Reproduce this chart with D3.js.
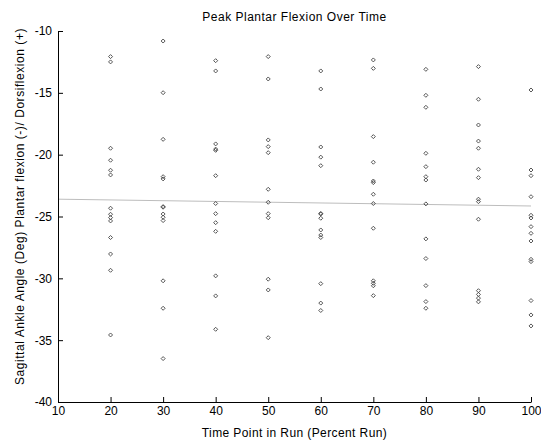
<!DOCTYPE html>
<html>
<head>
<meta charset="utf-8">
<script src="https://cdn.jsdelivr.net/npm/d3@7"></script>
<style>
  html, body { margin: 0; padding: 0; background: #fff; }
  svg { display: block; font-family: "Liberation Sans", Arial, sans-serif; }
</style>
</head>
<body>
<svg id="chart" width="541" height="446"></svg>
<script>
// ---- Data ----
const timePoints = [20, 30, 40, 50, 60, 70, 80, 90, 100];
const angles20 = [-12.07, -12.5, -19.48, -20.45, -21.26, -21.64, -24.33, -24.82, -25.09, -25.36, -26.7, -28.03, -29.35, -34.58];
const angles30 = [-10.81, -14.99, -18.76, -21.78, -21.96, -24.2, -24.25, -24.8, -25.06, -25.33, -30.2, -32.42, -36.49];
const angles40 = [-12.4, -13.23, -19.13, -19.55, -19.65, -21.7, -23.95, -24.77, -25.5, -26.2, -29.8, -31.42, -34.12];
const angles50 = [-12.07, -13.88, -18.81, -19.35, -19.84, -22.8, -23.85, -24.77, -25.1, -30.07, -30.94, -34.8];
const angles60 = [-13.23, -14.69, -19.38, -20.2, -20.89, -24.75, -24.8, -25.14, -26.09, -26.5, -26.7, -30.43, -32.0, -32.6];
const angles70 = [-12.34, -13.02, -18.54, -20.61, -22.13, -22.26, -23.2, -23.95, -25.95, -30.2, -30.4, -30.6, -31.4];
const angles80 = [-13.1, -15.2, -16.17, -19.89, -20.97, -21.78, -22.05, -23.98, -26.81, -28.4, -30.59, -31.88, -32.42];
const angles90 = [-12.88, -15.52, -17.6, -18.9, -19.48, -21.18, -21.86, -23.6, -23.8, -25.22, -31.0, -31.3, -31.6, -31.9];
const angles100 = [-14.77, -21.24, -21.7, -23.4, -24.9, -25.12, -25.82, -26.36, -26.98, -28.46, -28.65, -31.8, -32.96, -33.85];
const fitX = [10, 100];
const fitY = [-23.6, -24.15];
const xTicks = [10, 20, 30, 40, 50, 60, 70, 80, 90, 100];
const yTicks = [-10, -15, -20, -25, -30, -35, -40];
const titleText = "Peak Plantar Flexion Over Time";
const xLabel = "Time Point in Run (Percent Run)";
const yLabel = "Sagittal Ankle Angle (Deg) Plantar flexion (-)/ Dorsiflexion (+)";

const allAngles = [angles20, angles30, angles40, angles50, angles60, angles70, angles80, angles90, angles100];
const points = [];
timePoints.forEach((t, i) => allAngles[i].forEach(v => points.push({ t, v })));

// ---- Layout ----
const W = 541, H = 446;
const margin = { left: 58, right: 10, top: 31, bottom: 44 };
const svg = d3.select("#chart");

const x = d3.scaleLinear().domain([10, 100]).range([margin.left, W - margin.right]);
const y = d3.scaleLinear().domain([-40, -10]).range([H - margin.bottom, margin.top]);

// regression line
svg.append("path")
  .datum(fitX.map((d, i) => [d, fitY[i]]))
  .attr("fill", "none")
  .attr("stroke", "#bdbdbd")
  .attr("stroke-width", 1)
  .attr("d", d3.line().x(d => x(d[0])).y(d => y(d[1])));

// points (small diamonds)
const r = 2;
const diamondPath = `M0,${-r}L${r},0L0,${r}L${-r},0Z`;
svg.append("g")
  .selectAll("path")
  .data(points)
  .join("path")
  .attr("transform", d => `translate(${x(d.t)},${y(d.v)})`)
  .attr("d", diamondPath)
  .attr("fill", "none")
  .attr("stroke", "#444")
  .attr("stroke-width", 0.9);

const fmt = d => String(d);

// x axis
const xAxis = svg.append("g")
  .attr("transform", `translate(0,${H - margin.bottom})`)
  .call(d3.axisBottom(x).tickValues(xTicks).tickFormat(fmt).tickSizeInner(-5).tickSizeOuter(0).tickPadding(4));
xAxis.select(".domain").attr("stroke", "#000");
xAxis.selectAll(".tick line").attr("stroke", "#000");
xAxis.selectAll("text").attr("font-size", 12).attr("fill", "#000").attr("font-family", "Liberation Sans, Arial, sans-serif").attr("dy", "0.71em").attr("y", 4);

// y axis
const yAxis = svg.append("g")
  .attr("transform", `translate(${margin.left},0)`)
  .call(d3.axisLeft(y).tickValues(yTicks).tickFormat(fmt).tickSizeInner(-5).tickSizeOuter(0).tickPadding(6));
yAxis.select(".domain").attr("stroke", "#000");
yAxis.selectAll(".tick line").attr("stroke", "#000");
yAxis.selectAll("text").attr("font-size", 12).attr("fill", "#000").attr("font-family", "Liberation Sans, Arial, sans-serif").attr("x", -6);

// title
svg.append("text")
  .attr("x", (x(10) + x(100)) / 2)
  .attr("y", 21)
  .attr("text-anchor", "middle")
  .attr("font-size", 12)
  .attr("letter-spacing", 0.5)
  .attr("fill", "#000")
  .text(titleText);

// x label
svg.append("text")
  .attr("x", (x(10) + x(100)) / 2)
  .attr("y", 437)
  .attr("text-anchor", "middle")
  .attr("font-size", 12)
  .attr("letter-spacing", 0.4)
  .attr("fill", "#000")
  .text(xLabel);

// y label
svg.append("text")
  .attr("transform", `translate(24,${(y(-10) + y(-40)) / 2 - 10}) rotate(-90)`)
  .attr("text-anchor", "middle")
  .attr("font-size", 12)
  .attr("letter-spacing", 0.55)
  .attr("fill", "#000")
  .text(yLabel);
</script>
</body>
</html>
